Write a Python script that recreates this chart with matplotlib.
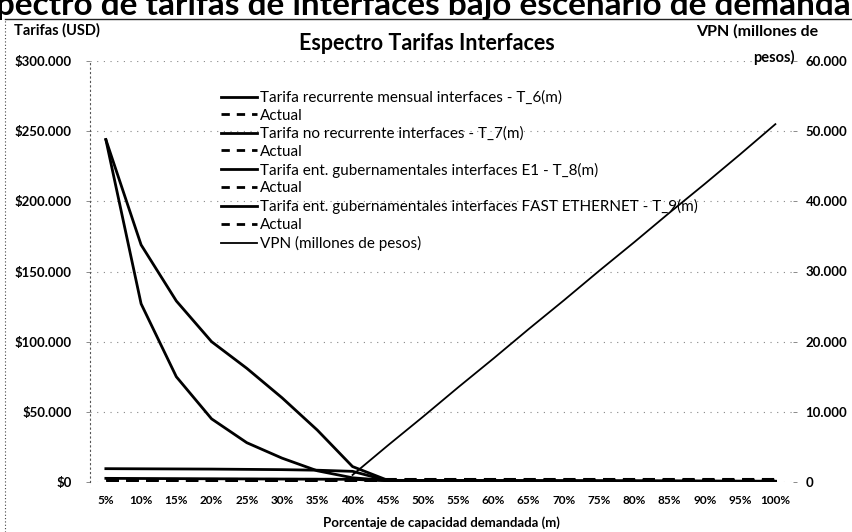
import matplotlib.pyplot as plt
import numpy as np
from matplotlib.lines import Line2D

# Categories (share of demanded capacity)
categories = ['5%', '10%', '15%', '20%', '25%', '30%', '35%', '40%', '45%', '50%',
              '55%', '60%', '65%', '70%', '75%', '80%', '85%', '90%', '95%', '100%']

# Tariffs in USD (left axis)
t6_mensual = [9500, 9400, 9300, 9200, 9000, 8800, 8400, 7600, 900, 850,
              800, 750, 700, 650, 600, 550, 500, 450, 400, 350]
t7_no_recurrente = [244000, 169000, 129000, 100000, 81000, 60000, 37000, 11000, 1200, 1100,
                    1000, 950, 900, 850, 800, 750, 700, 650, 600, 550]
t8_e1 = [244000, 127000, 75000, 45000, 28000, 17000, 8000, 3000, 1000, 950,
         900, 850, 800, 750, 700, 650, 600, 550, 500, 450]
t9_fast_ethernet = [2600, 2500, 2400, 2300, 2200, 2100, 2000, 1900, 900, 850,
                    800, 750, 700, 650, 600, 550, 500, 450, 400, 350]
actual_t6 = [1500] * 20
actual_t7 = [1900] * 20
actual_t8 = [1200] * 20
actual_t9 = [1700] * 20

# VPN in millions of pesos (right axis)
vpn = [np.nan, np.nan, np.nan, np.nan, np.nan, np.nan, np.nan, 1000, 5200, 9300,
       13500, 17600, 21800, 25900, 30100, 34200, 38400, 42500, 46700, 51000]

left_ticks = [0, 50000, 100000, 150000, 200000, 250000, 300000]
left_labels = ['$0', '$50.000', '$100.000', '$150.000', '$200.000', '$250.000', '$300.000']
right_ticks = [0, 10000, 20000, 30000, 40000, 50000, 60000]
right_labels = ['0', '10.000', '20.000', '30.000', '40.000', '50.000', '60.000']

plt.rcParams['font.family'] = ['Lato', 'DejaVu Sans']

fig = plt.figure(figsize=(8.52, 5.32), dpi=100)
W, H = 852, 532
ax = fig.add_axes([90 / W, 1 - 482 / H, 703 / W, 421 / H])
ax2 = ax.twinx()

x = np.arange(len(categories))

# dashed "Actual" lines along the bottom
for vals in [actual_t6, actual_t7, actual_t8, actual_t9]:
    ax.plot(x, vals, color='black', lw=2.2, linestyle=(0, (4, 2.5)))

ax.plot(x, t9_fast_ethernet, color='black', lw=2.0)
ax.plot(x, t6_mensual, color='black', lw=2.0)
ax.plot(x, t8_e1, color='black', lw=2.0)
ax.plot(x, t7_no_recurrente, color='black', lw=2.0)
ax2.plot(x, vpn, color='black', lw=1.3)

ax.set_xlim(-0.45, 19.5)
ax.set_ylim(0, 300000)
ax2.set_ylim(0, 60000)

ax.set_xticks(x)
ax.set_xticklabels(categories, fontsize=8.5, fontweight='bold')
ax.set_yticks(left_ticks)
ax.set_yticklabels(left_labels, fontsize=9.5, fontweight='bold')
ax2.set_yticks(right_ticks)
ax2.set_yticklabels(right_labels, fontsize=9.5, fontweight='bold')

ax.tick_params(axis='x', length=0, pad=9)
ax.tick_params(axis='y', length=3, width=0.6, color='#777', pad=10)
ax2.tick_params(axis='y', length=3, width=0.6, color='#777', pad=6)

ax.grid(axis='y', linestyle=(0, (1, 5)), color='#888', lw=0.8)
for a in (ax, ax2):
    for s in ['top', 'right', 'bottom', 'left']:
        a.spines[s].set_visible(False)
ax.spines['left'].set_visible(True)
ax.spines['left'].set_linestyle((0, (1, 3)))
ax.spines['left'].set_color('#555')
ax.spines['left'].set_linewidth(0.8)

ax.set_xlabel('Porcentaje de capacidad demandada (m)', fontsize=9.5, fontweight='bold', labelpad=8)

# legend
solid = dict(color='black', lw=2.0)
dashed = dict(color='black', lw=2.0, linestyle=(0, (3, 2.5)))
handles = [Line2D([], [], **solid), Line2D([], [], **dashed),
           Line2D([], [], **solid), Line2D([], [], **dashed),
           Line2D([], [], **solid), Line2D([], [], **dashed),
           Line2D([], [], **solid), Line2D([], [], **dashed),
           Line2D([], [], color='black', lw=1.3)]
labels = ['Tarifa recurrente mensual interfaces - T_6(m)', 'Actual',
          'Tarifa no recurrente interfaces - T_7(m)', 'Actual',
          'Tarifa ent. gubernamentales interfaces E1 - T_8(m)', 'Actual',
          'Tarifa ent. gubernamentales interfaces FAST ETHERNET - T_9(m)', 'Actual',
          'VPN (millones de pesos)']
ax2.legend(handles, labels, loc='upper left', bbox_to_anchor=(213 / W, 1 - 83 / H),
           bbox_transform=fig.transFigure, frameon=False, fontsize=11,
           handlelength=2.4, handletextpad=0.2, labelspacing=0.25, borderpad=0)

# titles and axis captions
fig.text(427 / W, 1 - 44 / H, 'Espectro Tarifas Interfaces', ha='center', va='center',
         fontsize=15.5, fontweight='bold')
fig.text(14 / W, 1 - 30 / H, 'Tarifas (USD)', ha='left', va='center', fontsize=10.5, fontweight='bold')
fig.text(818 / W, 1 - 31 / H, 'VPN (millones de', ha='right', va='center', fontsize=11.5, fontweight='bold')
fig.text(795 / W, 1 - 57 / H, 'pesos)', ha='right', va='center', fontsize=10.5, fontweight='bold')

# cut-off page heading at the very top
fig.text(851 / W, 1 - 15 / H, 'Espectro de tarifas de interfaces bajo escenario de demanda',
         ha='right', va='baseline', fontsize=24, fontweight='bold')

# chart border
fig.add_artist(Line2D([5 / W, 1], [1 - 19 / H, 1 - 19 / H], transform=fig.transFigure,
                      color='#222', lw=1.0))
fig.add_artist(Line2D([5 / W, 5 / W], [0, 1 - 19 / H], transform=fig.transFigure,
                      color='#444', lw=0.8, linestyle=(0, (1, 2))))

fig.savefig('out.png', dpi=100)
